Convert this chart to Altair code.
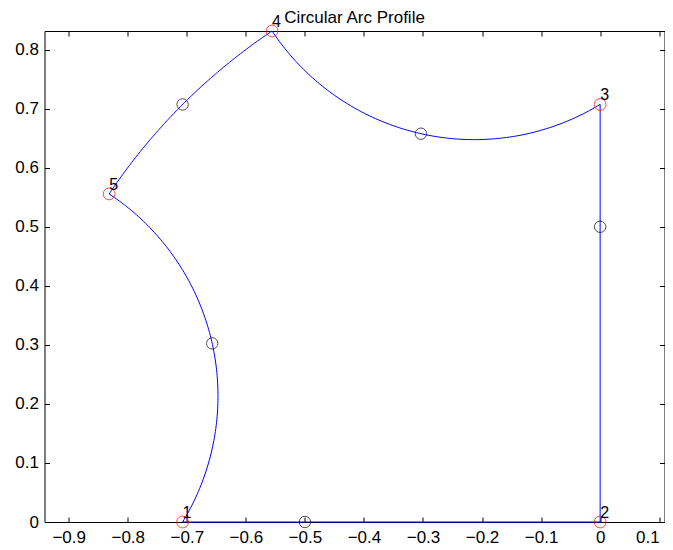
import altair as alt
import pandas as pd
import numpy as np

# Profile vertices (numbered, red circles)
vx = [-0.7071, 0.0, 0.0, -0.5556, -0.8315]
vy = [0.0, 0.0, 0.7071, 0.8315, 0.5556]
vlabel = ["1", "2", "3", "4", "5"]

# Intermediate points on each segment (black circles); segment i joins vertex i -> i+1
mx = [-0.5, 0.0, -0.3035, -0.7071, -0.657]
my = [0.0, 0.5, 0.6576, 0.7071, 0.3025]

xticks = [-0.9, -0.8, -0.7, -0.6, -0.5, -0.4, -0.3, -0.2, -0.1, 0.0, 0.1]
yticks = [0.0, 0.1, 0.2, 0.3, 0.4, 0.5, 0.6, 0.7, 0.8]

XDOM = [-0.941, 0.109]
YDOM = [0.0, 0.8315]
W, H = 620, 491
FONT = "Liberation Sans"


def arc_through(p0, pm, p1, n=120):
    """Points on the circular arc from p0 to p1 passing through pm (straight if collinear)."""
    (ax, ay), (bx, by), (cx, cy) = p0, pm, p1
    d = 2 * (ax * (by - cy) + bx * (cy - ay) + cx * (ay - by))
    if abs(d) < 1e-9:
        return [p0, p1]
    ux = ((ax**2 + ay**2) * (by - cy) + (bx**2 + by**2) * (cy - ay) + (cx**2 + cy**2) * (ay - by)) / d
    uy = ((ax**2 + ay**2) * (cx - bx) + (bx**2 + by**2) * (ax - cx) + (cx**2 + cy**2) * (bx - ax)) / d
    r = np.hypot(ax - ux, ay - uy)
    t0 = np.arctan2(ay - uy, ax - ux)
    tm = np.arctan2(by - uy, bx - ux)
    t1 = np.arctan2(cy - uy, cx - ux)
    two = 2 * np.pi
    dm = (tm - t0) % two
    d1 = (t1 - t0) % two
    if dm > d1:
        d1 = d1 - two
    ts = t0 + np.linspace(0, d1, n)
    return list(zip(ux + r * np.cos(ts), uy + r * np.sin(ts)))


rows = []
k = 0
for i in range(5):
    j = (i + 1) % 5
    pts = arc_through((vx[i], vy[i]), (mx[i], my[i]), (vx[j], vy[j]))
    for (px, py) in pts:
        rows.append({"x": px, "y": py, "o": k})
        k += 1
line_df = pd.DataFrame(rows)
vert_df = pd.DataFrame({"x": vx, "y": vy, "label": vlabel})
mid_df = pd.DataFrame({"x": mx, "y": my})

xs = alt.Scale(domain=XDOM, nice=False, zero=False)
ys = alt.Scale(domain=YDOM, nice=False, zero=False)

lab_common = dict(labelFont=FONT, labelFontSize=17, labelColor="black", grid=False,
                  domain=False, ticks=False, title=None)
tc = dict(labels=False, domain=False, grid=False, ticks=True, tickSize=5,
          tickColor="black", tickWidth=1, title=None)

lines = alt.Chart(line_df).mark_line(color="#0000ff", strokeWidth=1).encode(
    x=alt.X("x:Q", scale=xs, axis=alt.Axis(orient="bottom", values=xticks, format=".1~f",
                                          labelPadding=7, labelFlush=6, **lab_common)),
    y=alt.Y("y:Q", scale=ys, axis=alt.Axis(orient="left", values=yticks, format=".1~f",
                                          labelPadding=6, **lab_common)),
    order="o:Q",
)

red = alt.Chart(vert_df).mark_point(shape="circle", color="red", size=140, strokeWidth=1,
                                    filled=False).encode(
    x=alt.X("x:Q", scale=xs, axis=alt.Axis(orient="top", offset=-H, values=xticks, **tc)),
    y=alt.Y("y:Q", scale=ys, axis=alt.Axis(orient="right", offset=-W, values=yticks, **tc)),
)

black = alt.Chart(mid_df).mark_point(shape="circle", color="black", size=130, strokeWidth=1,
                                     filled=False).encode(
    x=alt.X("x:Q", scale=xs, axis=alt.Axis(orient="bottom", offset=-H, values=xticks, **tc)),
    y=alt.Y("y:Q", scale=ys, axis=alt.Axis(orient="left", offset=-W, values=yticks, **tc)),
)

labels = alt.Chart(vert_df).mark_text(align="left", baseline="alphabetic", dx=0, dy=-4,
                                      font=FONT, fontSize=16, color="black").encode(
    x=alt.X("x:Q", scale=xs, axis=None),
    y=alt.Y("y:Q", scale=ys, axis=None),
    text="label:N",
)

chart = alt.layer(lines, red, black, labels).resolve_axis(
    x="independent", y="independent"
).properties(
    width=W, height=H,
    title=alt.TitleParams("Circular Arc Profile", font=FONT, fontSize=17, fontWeight="normal",
                          color="black", anchor="middle", baseline="alphabetic", offset=0,
                          dy=26, frame="group"),
    padding={"left": 36.5, "top": 23, "right": 0.5, "bottom": 27},
    autosize=alt.AutoSizeParams(type="none"),
    background="white",
).configure_view(stroke="black", strokeWidth=1)

chart.save("out.html", embed_options={"renderer": "svg", "actions": False})
